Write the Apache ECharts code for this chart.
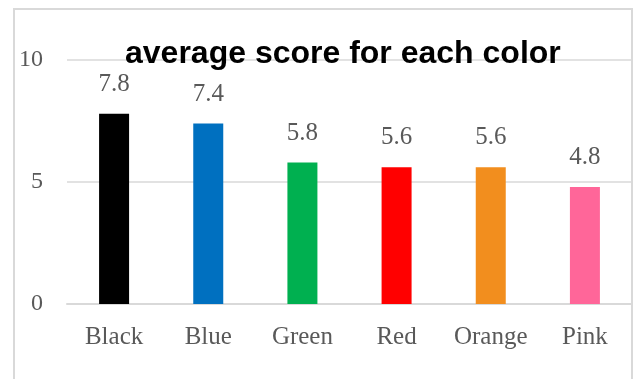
<!DOCTYPE html>
<html>
<head>
<meta charset="utf-8">
<script src="https://cdn.jsdelivr.net/npm/echarts@6/dist/echarts.min.js"></script>
<style>
  html, body { margin: 0; padding: 0; background: #fff; }
  #chart { width: 633px; height: 379px; }
</style>
</head>
<body>
<div id="chart"></div>
<script>
// Colour names along the x axis
const colorNames = ['Black', 'Blue', 'Green', 'Red', 'Orange', 'Pink'];
// Average score for each colour
const averageScores = [7.8, 7.4, 5.8, 5.6, 5.6, 4.8];
// Fill used for each bar
const barFills = ['#000000', '#0070c0', '#00b050', '#ff0000', '#f28e1e', '#ff6699'];
// Value axis ticks
const yTicks = [0, 5, 10];

const chart = echarts.init(document.getElementById('chart'), null, { renderer: 'canvas' });

const serif = '"Liberation Serif", "DejaVu Serif", serif';
const textGray = '#595959';
const lineGray = '#d9d9d9';

chart.setOption({
  animation: false,
  backgroundColor: '#ffffff',
  title: {
    text: 'average score for each color',
    left: 120,
    top: 33,
    textStyle: {
      fontFamily: '"Liberation Sans", Arial, sans-serif',
      fontWeight: 'bold',
      fontSize: 32,
      color: '#000000'
    }
  },
  graphic: [{
    type: 'rect',
    z: -1,
    shape: { x: 14, y: 9, width: 618, height: 400 },
    style: { fill: 'none', stroke: lineGray, lineWidth: 2 }
  }],
  grid: { left: 67, right: 1, top: 60, bottom: 75 },
  xAxis: {
    type: 'category',
    data: colorNames,
    axisTick: { show: false },
    axisLine: { lineStyle: { color: lineGray, width: 2 } },
    axisLabel: {
      interval: 0,
      hideOverlap: false,
      margin: 21,
      fontFamily: serif,
      fontSize: 25,
      color: textGray
    }
  },
  yAxis: {
    type: 'value',
    min: yTicks[0],
    max: yTicks[yTicks.length - 1],
    interval: yTicks[1] - yTicks[0],
    axisLine: { show: false },
    axisTick: { show: false },
    splitLine: { lineStyle: { color: lineGray, width: 1.5 } },
    axisLabel: {
      margin: 24,
      fontFamily: serif,
      fontSize: 24,
      color: textGray
    }
  },
  series: [{
    type: 'bar',
    barWidth: 30,
    data: averageScores.map((v, i) => ({ value: v, itemStyle: { color: barFills[i] } })),
    label: {
      show: true,
      position: 'top',
      distance: 17,
      fontFamily: serif,
      fontSize: 25,
      color: textGray,
      formatter: p => p.value.toFixed(1)
    }
  }]
});
</script>
</body>
</html>
